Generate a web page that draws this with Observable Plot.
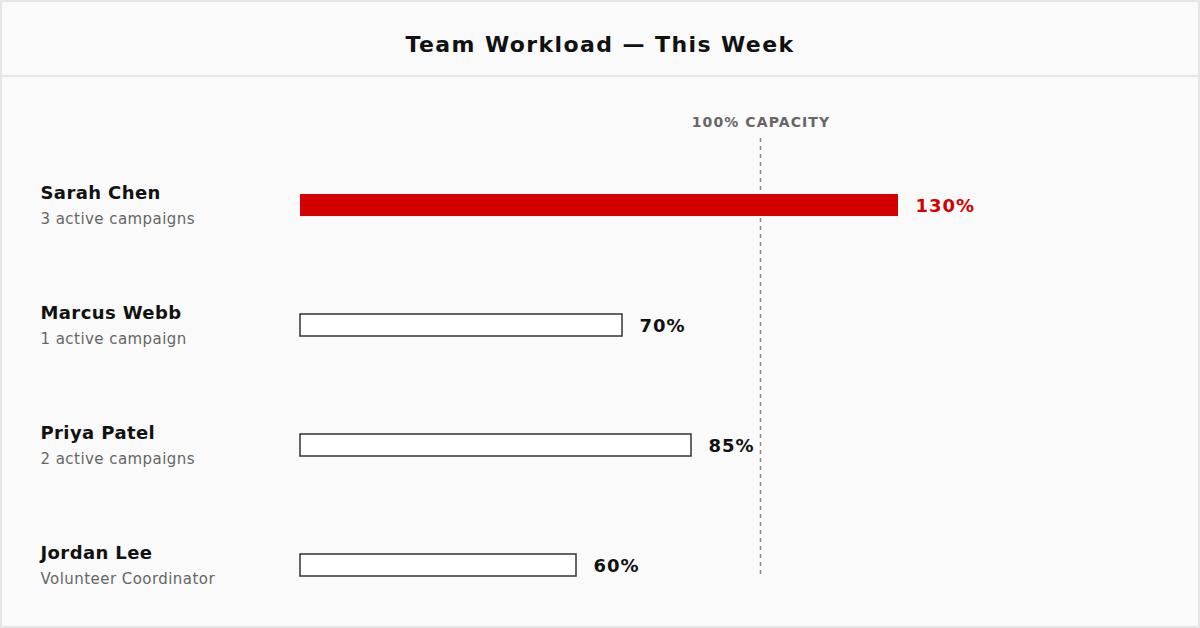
<!DOCTYPE html>
<html>
<head>
<meta charset="utf-8">
<script src="https://cdn.jsdelivr.net/npm/d3@7"></script>
<script src="https://cdn.jsdelivr.net/npm/@observablehq/plot@0.6"></script>
<style>
  html, body { margin: 0; padding: 0; background: #fafafa; }
  #frame {
    position: relative; box-sizing: border-box; width: 1200px; height: 628px;
    border: 2px solid #e6e6e6; background: #fafafa; overflow: hidden;
    font-family: "DejaVu Sans", Verdana, sans-serif;
  }
  #header {
    position: absolute; left: 0; top: 0; width: 1196px; height: 73px;
    border-bottom: 2px solid #e6e6e6;
  }
  #title {
    position: absolute; left: 0; right: 0; top: 30px; text-align: center;
    font-size: 22px; line-height: 26px; font-weight: bold; color: #111;
    letter-spacing: 1.4px;
  }
  #chart { position: absolute; left: 0; top: 75px; }
</style>
</head>
<body>
<div id="frame">
  <div id="header"><div id="title">Team Workload — This Week</div></div>
  <div id="chart"></div>
</div>
<script>
const names = ["Sarah Chen", "Marcus Webb", "Priya Patel", "Jordan Lee"];
const roles = ["3 active campaigns", "1 active campaign", "2 active campaigns", "Volunteer Coordinator"];
const loads = [130, 70, 85, 60];
const capacity = [100];
const capacityLabel = ["100% CAPACITY"];

const data = names.map((n, i) => ({name: n, role: roles[i], load: loads[i]}));
const over = d => d.load > capacity[0];
const red = "#d40000";

const plot = Plot.plot({
  width: 1196,
  height: 549,
  marginLeft: 298,
  marginRight: 0,
  marginTop: 61,
  marginBottom: 51,
  style: {background: "transparent", fontFamily: "'DejaVu Sans', Verdana, sans-serif", overflow: "visible"},
  x: {domain: [0, 100], range: [298, 758], axis: null},
  y: {domain: names, range: [68, 548], padding: 0, axis: null},
  marks: [
    Plot.ruleX(capacity, {x: d => d, stroke: "#888", strokeWidth: 1.5, strokeDasharray: "4,4"}),
    Plot.text(capacityLabel, {x: capacity[0], text: d => d, frameAnchor: "top", dy: -21, dx: 0.5,
      fill: "#666", fontSize: 14, fontWeight: "bold"}),
    Plot.barX(data, {x1: 0, x2: "load", y: "name", insetTop: 49, insetBottom: 49,
      fill: d => over(d) ? red : "#ffffff",
      stroke: d => over(d) ? "none" : "#333",
      strokeWidth: 1.5}),
    Plot.text(data, {x: "load", y: "name", text: d => d.load + "%", dx: 17, dy: 1,
      textAnchor: "start", fontSize: 18, fontWeight: "bold",
      fill: d => over(d) ? red : "#111"}),
    Plot.text(data, {y: "name", text: "name", frameAnchor: "left", dx: -260, dy: -12,
      textAnchor: "start", fontSize: 18, fontWeight: "bold", fill: "#111"}),
    Plot.text(data, {y: "name", text: "role", frameAnchor: "left", dx: -260, dy: 14,
      textAnchor: "start", fontSize: 15, fill: "#666"})
  ]
});
// letter-spacing to approximate the wider Verdana metrics
const textGroups = plot.querySelectorAll('g[aria-label="text"]');
const spacings = [1.1, 1, 0.4, 0.45];
textGroups.forEach((g, i) => {
  if (spacings[i] != null) g.setAttribute("letter-spacing", spacings[i]);
});
document.getElementById("chart").appendChild(plot);
</script>
</body>
</html>
